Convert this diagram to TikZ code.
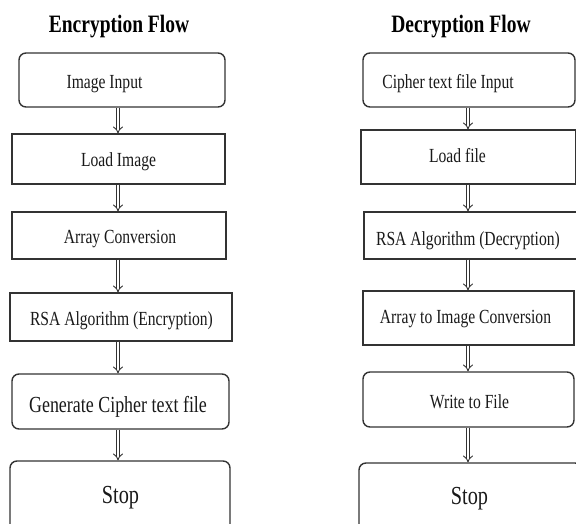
\documentclass[tikz,border=0pt]{standalone}
\usepackage{fontspec}
\setmainfont{Liberation Serif}[FakeStretch=0.78]
\usetikzlibrary{arrows.meta,calc}
\begin{document}
\begin{tikzpicture}[x=1pt,y=-1pt,
  boxr/.style={draw=black!80, line width=1.4pt, rounded corners=7pt, inner sep=0pt},
  boxs/.style={draw=black!80, line width=1.4pt, inner sep=0pt},
  lbl/.style={font=\fontsize{20}{24}\selectfont, inner sep=0pt, anchor=base, text=black!90},
  big/.style={lbl, font=\fontsize{23}{27}\selectfont},
  stoplbl/.style={lbl, font=\fontsize{26}{30}\selectfont},
  ttl/.style={inner sep=0pt, anchor=base, font=\fontsize{25}{30}\selectfont\bfseries},
  flow/.style={draw=black!80, double=white, double distance=2.6pt, line width=0.9pt, -{Implies}}
]
\useasboundingbox (0,0) rectangle (576,524);
\clip (0,0) rectangle (576,524);

% titles
\node[ttl] (tl) at (119,33) {Encryption Flow};
\node[ttl] (tr) at (461,33) {Decryption Flow};

% encryption boxes
\node[boxr, minimum width=206pt, minimum height=54pt] (e1) at (122,80) {};
\node[boxs, minimum width=213pt, minimum height=50pt] (e2) at (118.5,159) {};
\node[boxs, minimum width=214pt, minimum height=47pt] (e3) at (119,235.5) {};
\node[boxs, minimum width=222pt, minimum height=48pt] (e4) at (121,317) {};
\node[boxr, minimum width=217pt, minimum height=55pt] (e5) at (120.5,401.5) {};
\node[boxr, minimum width=220pt, minimum height=78pt] (e6) at (120,500) {};

\node[lbl] (et1) at (104.5,89) {Image Input};
\node[lbl] (et2) at (118.5,167) {Load Image};
\node[lbl] (et3) at (120,243) {Array Conversion};
\node[lbl] (et4) at (121.5,325) {RSA Algorithm (Encryption)};
\node[big] (et5) at (118,412) {Generate Cipher text file};
\node[stoplbl] (et6) at (120.5,503) {Stop};

% decryption boxes
\node[boxr, minimum width=212pt, minimum height=54pt] (d1) at (469,80) {};
\node[boxs, minimum width=215pt, minimum height=54pt] (d2) at (468.5,157) {};
\node[boxs, minimum width=216pt, minimum height=47pt] (d3) at (472,235.5) {};
\node[boxs, minimum width=211pt, minimum height=54pt] (d4) at (468.5,318) {};
\node[boxr, minimum width=211pt, minimum height=55pt] (d5) at (468.5,399.5) {};
\node[boxr, minimum width=223pt, minimum height=77pt] (d6) at (470.5,501.5) {};

\node[lbl] (dt1) at (448,89) {Cipher text file Input};
\node[lbl] (dt2) at (457.5,163) {Load file};
\node[lbl] (dt3) at (468,245) {RSA Algorithm (Decryption)};
\node[lbl] (dt4) at (465.5,323) {Array to Image Conversion};
\node[lbl] (dt5) at (469.5,408) {Write to File};
\node[stoplbl] (dt6) at (469.5,504) {Stop};

% arrow axes
\coordinate (axL) at (118,0);
\coordinate (axR) at (468,0);

\draw[flow] (e1.south -| axL) -- (e2.north -| axL);
\draw[flow] (e2.south -| axL) -- (e3.north -| axL);
\draw[flow] (e3.south -| axL) -- (e4.north -| axL);
\draw[flow] (e4.south -| axL) -- (e5.north -| axL);
\draw[flow] (e5.south -| axL) -- (e6.north -| axL);

\draw[flow] (d1.south -| axR) -- (d2.north -| axR);
\draw[flow] (d2.south -| axR) -- (d3.north -| axR);
\draw[flow] (d3.south -| axR) -- (d4.north -| axR);
\draw[flow] (d4.south -| axR) -- (d5.north -| axR);
\draw[flow] (d5.south -| axR) -- (d6.north -| axR);
\end{tikzpicture}
\end{document}
